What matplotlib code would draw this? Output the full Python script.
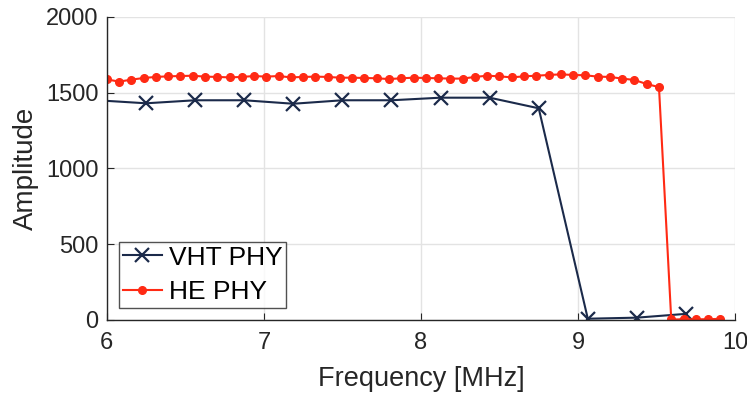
import matplotlib
matplotlib.use("Agg")
import matplotlib.pyplot as plt

# VHT PHY: one point every 0.3125 MHz
vht_freq = [5.9375, 6.25, 6.5625, 6.875, 7.1875, 7.5, 7.8125, 8.125, 8.4375,
            8.75, 9.0625, 9.375, 9.6875]
vht_amp = [1450, 1430, 1450, 1450, 1427, 1450, 1450, 1467, 1467,
           1397, 8, 15, 40]

# HE PHY: one point every 0.078125 MHz, 6.0 .. 9.90625
he_freq = [6.0, 6.078125, 6.15625, 6.234375, 6.3125, 6.390625, 6.46875, 6.546875,
           6.625, 6.703125, 6.78125, 6.859375, 6.9375, 7.015625, 7.09375, 7.171875,
           7.25, 7.328125, 7.40625, 7.484375, 7.5625, 7.640625, 7.71875, 7.796875,
           7.875, 7.953125, 8.03125, 8.109375, 8.1875, 8.265625, 8.34375, 8.421875,
           8.5, 8.578125, 8.65625, 8.734375, 8.8125, 8.890625, 8.96875, 9.046875,
           9.125, 9.203125, 9.28125, 9.359375, 9.4375, 9.515625, 9.59375, 9.671875,
           9.75, 9.828125, 9.90625]
he_amp = [1588, 1573, 1586, 1597, 1604, 1608, 1610, 1612, 1606, 1604, 1601, 1604,
          1610, 1606, 1610, 1601, 1604, 1606, 1604, 1599, 1599, 1597, 1595, 1590,
          1595, 1599, 1597, 1595, 1593, 1593, 1604, 1612, 1608, 1601, 1608, 1612,
          1617, 1621, 1617, 1615, 1606, 1604, 1593, 1584, 1557, 1537,
          3, 4, 4, 5, 7]

x_ticks = [6, 7, 8, 9, 10]
y_ticks = [0, 500, 1000, 1500, 2000]

AX_COLOR = "#262626"

plt.rcParams["font.family"] = ["Liberation Sans", "DejaVu Sans"]

fig = plt.figure(figsize=(7.47, 3.94), dpi=100)
ax = fig.add_axes([0.143, 0.188, 0.841, 0.769])

ax.plot(vht_freq, vht_amp, color="#1b2a4a", lw=1.5, marker="x",
        markersize=10, markeredgewidth=1.6, label="VHT PHY")
ax.plot(he_freq, he_amp, color="#ff2a14", lw=1.5, marker="o",
        markersize=5.5, label="HE PHY")

ax.set_xlim(6, 10)
ax.set_ylim(0, 2000)
ax.set_xticks(x_ticks)
ax.set_yticks(y_ticks)
ax.grid(True, color="#e3e3e3", lw=1)
ax.set_axisbelow(True)

ax.spines["top"].set_visible(False)
ax.spines["right"].set_visible(False)
for s in ("left", "bottom"):
    ax.spines[s].set_color(AX_COLOR)
    ax.spines[s].set_linewidth(1)
ax.tick_params(direction="in", length=5, colors=AX_COLOR, labelsize=17)
ax.tick_params(axis="x", pad=9)
ax.tick_params(axis="y", pad=6)

ax.set_xlabel("Frequency [MHz]", fontsize=19.5, color=AX_COLOR, labelpad=8)
ax.set_ylabel("Amplitude", fontsize=20, color=AX_COLOR, labelpad=5)

leg = ax.legend(loc="lower left", fontsize=19, frameon=True, fancybox=False,
                edgecolor=AX_COLOR, handlelength=1.5, borderaxespad=0.45,
                borderpad=0.15, labelspacing=0.4, handletextpad=0.25)
leg.get_frame().set_linewidth(1)
for t in leg.get_texts():
    t.set_color("black")

fig.savefig("out.png", dpi=100)
